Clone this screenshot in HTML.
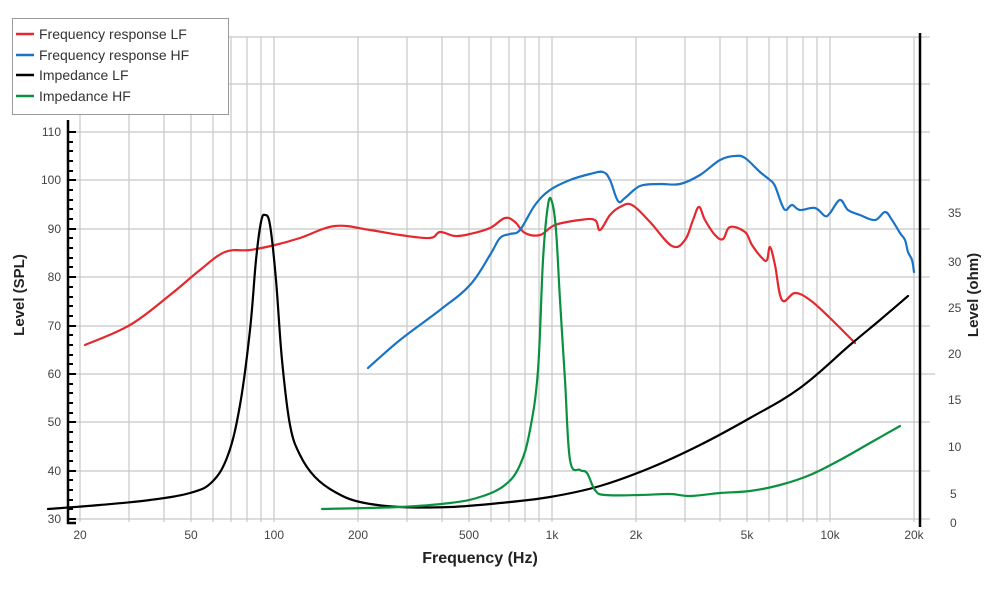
<!DOCTYPE html>
<html><head><style>body{margin:0;background:#fff}svg{display:block;font-family:"Liberation Sans",sans-serif}</style></head><body>
<svg id="s" width="1000" height="600" viewBox="0 0 1000 600">
<g stroke="#c8c8c8" stroke-width="1.2" fill="none">
<path d="M68 37H930M68 84H930M68 132H930M68 180H930M68 229H930M68 277H930M68 326H930M68 374H935M68 422H930M68 471H930M68 519H930"/>
<path d="M80 37V522M129 37V522M164 37V522M191 37V522M213 37V522M231 37V522M247 37V522M261 37V522M274 37V522M358 37V522M407 37V522M442 37V522M469 37V522M491 37V522M509 37V522M525 37V522M539 37V522M552 37V522M636 37V522M685 37V522M720 37V522M747 37V522M769 37V522M787 37V522M803 37V522M817 37V522M830 37V522M914 37V522"/>
</g>
<g stroke="#000" stroke-width="2.5" fill="none"><path d="M68 120V523H76"/><path d="M920 33V527"/></g>
<g stroke="#000" stroke-width="2">
<path d="M68 132h8M68 180h8M68 229h8M68 277h8M68 326h8M68 374h8M68 422h8M68 471h8M68 519h8"/>
<path d="M68 142h5M68 151h5M68 161h5M68 171h5M68 190h5M68 200h5M68 209h5M68 219h5M68 238h5M68 248h5M68 258h5M68 267h5M68 287h5M68 297h5M68 306h5M68 316h5M68 335h5M68 345h5M68 355h5M68 364h5M68 384h5M68 393h5M68 403h5M68 413h5M68 432h5M68 442h5M68 451h5M68 461h5M68 480h5M68 490h5M68 500h5M68 509h5"/>
</g>
<g font-size="12" fill="#444" text-anchor="end">
<text x="61" y="136">110</text><text x="61" y="184">100</text><text x="61" y="233">90</text><text x="61" y="281">80</text><text x="61" y="330">70</text><text x="61" y="378">60</text><text x="61" y="426">50</text><text x="61" y="475">40</text><text x="61" y="523">30</text>
</g>
<g font-size="12" fill="#444">
<text x="948" y="217">35</text><text x="948" y="266">30</text><text x="948" y="312">25</text><text x="948" y="358">20</text><text x="948" y="404">15</text><text x="948" y="451">10</text><text x="950" y="498">5</text><text x="950" y="527">0</text>
</g>
<g font-size="12" fill="#444" text-anchor="middle">
<text x="80" y="539">20</text><text x="191" y="539">50</text><text x="274" y="539">100</text><text x="358" y="539">200</text><text x="469" y="539">500</text><text x="552" y="539">1k</text><text x="636" y="539">2k</text><text x="747" y="539">5k</text><text x="830" y="539">10k</text><text x="914" y="539">20k</text>
</g>
<text x="480" y="563" font-size="16" font-weight="bold" fill="#222" text-anchor="middle">Frequency (Hz)</text>
<text transform="translate(24,295) rotate(-90)" font-size="15" font-weight="bold" fill="#222" text-anchor="middle">Level (SPL)</text>
<text transform="translate(978,295) rotate(-90)" font-size="15" font-weight="bold" fill="#222" text-anchor="middle">Level (ohm)</text>
<g fill="none" stroke-width="2.2" stroke-linejoin="round" stroke-linecap="round">
<polyline stroke="#e5282f" points="85,345 130,325 170,295 200,270 225,252 250,250 275,245 300,238 335,226 370,230 400,235 430,238 440,232 455,236 470,234 490,228 505,218 515,222 525,233 540,235 555,225 580,220 595,220 600,230 610,215 620,207 632,205 650,222 672,246 685,240 693,220 699,207 705,220 715,235 723,239 730,227 745,232 752,245 762,258 767,260 770,247 775,265 782,300 795,293 810,300 830,318 855,343"/>
<polyline stroke="#1a73c6" points="368,368 400,340 440,310 470,285 490,255 500,238 510,234 520,230 535,205 550,190 570,180 590,174 603,172 610,180 618,201 625,198 640,186 660,184 680,184 700,175 720,160 735,156 745,158 760,172 770,180 775,186 782,205 786,210 792,205 800,210 815,208 825,216 830,213 840,200 848,210 860,215 875,220 885,212 892,220 900,233 905,240 908,252 912,260 914,272"/>
<polyline stroke="#000" points="48,509 100,505 150,500 190,493 212,482 228,455 240,405 250,330 256,260 261,222 265,215 270,225 276,280 282,360 290,425 300,455 315,477 335,492 360,502 400,507 450,507 500,503 550,497 600,486 650,468 700,445 750,418 800,388 850,345 880,320 908,296"/>
<polyline stroke="#0a9140" points="322,509 400,507 450,503 480,497 505,485 520,465 530,430 538,370 543,260 548,205 552,202 556,230 560,300 565,380 570,460 580,470 587,473 595,490 605,495 640,495 670,494 690,496 720,493 750,491 780,485 810,475 840,460 870,443 900,426"/>
</g>
<rect x="12.5" y="18.5" width="216" height="96" fill="#fff" stroke="#999"/>
<g stroke-width="2.5"><path d="M16 34h18" stroke="#e5282f"/><path d="M16 55h18" stroke="#1a73c6"/><path d="M16 75h18" stroke="#000"/><path d="M16 96h18" stroke="#0a9140"/></g>
<g font-size="14" fill="#333">
<text x="39" y="39">Frequency response LF</text><text x="39" y="60">Frequency response HF</text><text x="39" y="80">Impedance LF</text><text x="39" y="101">Impedance HF</text>
</g>
</svg>
<script>
document.querySelectorAll('polyline').forEach(function(pl){
var p=pl.getAttribute('points').trim().split(/\s+/).map(function(s){return s.split(',').map(Number)});
var d='M'+p[0][0]+' '+p[0][1];
for(var i=0;i<p.length-1;i++){
var a=p[i-1]||p[i],b=p[i],c=p[i+1],e=p[i+2]||c,t=0.18;
d+=' C'+(b[0]+(c[0]-a[0])*t)+' '+(b[1]+(c[1]-a[1])*t)+' '+(c[0]-(e[0]-b[0])*t)+' '+(c[1]-(e[1]-b[1])*t)+' '+c[0]+' '+c[1];}
var path=document.createElementNS('http://www.w3.org/2000/svg','path');
path.setAttribute('d',d);path.setAttribute('stroke',pl.getAttribute('stroke'));
pl.parentNode.replaceChild(path,pl);});
</script>
</body></html>
